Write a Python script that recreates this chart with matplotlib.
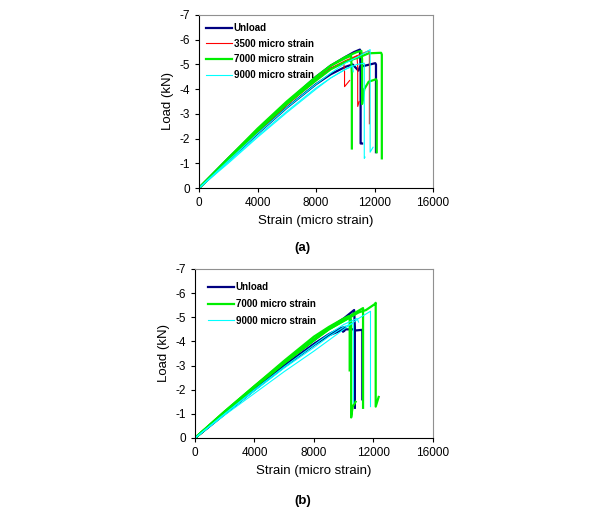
import matplotlib
matplotlib.use('Agg')
import matplotlib.pyplot as plt

plt.rcParams['font.family'] = ['Liberation Sans', 'DejaVu Sans']
plt.rcParams['axes.unicode_minus'] = False

# ---- (a) ----
a_unload_strain = [
    [0, 2000, 4000, 6000, 8000, 9000, 10000, 10600, 11000, 11050, 11050, 11150],
    [0, 2000, 4000, 6000, 8000, 9000, 10000, 10500, 10900, 11000, 12050, 12100, 12100],
]
a_unload_load = [
    [0, -1.2, -2.35, -3.45, -4.5, -4.95, -5.3, -5.5, -5.6, -4.8, -1.8, -1.8],
    [0, -1.1, -2.2, -3.25, -4.2, -4.6, -4.9, -5.0, -4.75, -4.9, -5.05, -5.0, -1.45],
]
a_3500_strain = [
    [0, 2000, 4000, 6000, 8000, 9000, 9900, 9950, 9950, 10300],
    [0, 2000, 4000, 6000, 8000, 9000, 10000, 10500, 10800, 10850, 10850, 10950],
    [0, 2000, 4000, 6000, 8000, 9000, 10000, 11000, 11600, 11650, 11650],
]
a_3500_load = [
    [0, -1.15, -2.3, -3.4, -4.4, -4.85, -5.05, -4.7, -4.1, -4.35],
    [0, -1.1, -2.25, -3.35, -4.35, -4.8, -5.1, -5.25, -5.35, -4.9, -3.3, -3.5],
    [0, -1.15, -2.3, -3.4, -4.4, -4.85, -5.15, -5.4, -5.55, -5.5, -2.6],
]
a_7000_strain = [
    [0, 2000, 4000, 6000, 8000, 9000, 10000, 10400, 10450, 10450],
    [0, 2000, 4000, 6000, 8000, 9000, 10000, 10800, 11100, 11150, 11150, 11300, 11600, 12100, 12150, 12150],
    [0, 2000, 4000, 6000, 8000, 9000, 10000, 11000, 11600, 12450, 12500, 12500],
]
a_7000_load = [
    [0, -1.2, -2.4, -3.5, -4.5, -4.95, -5.25, -5.35, -4.6, -1.6],
    [0, -1.2, -2.35, -3.45, -4.45, -4.95, -5.3, -5.5, -5.55, -5.2, -3.4, -4.0, -4.3, -4.4, -4.35, -1.45],
    [0, -1.15, -2.3, -3.4, -4.35, -4.8, -5.1, -5.3, -5.45, -5.47, -5.4, -1.2],
]
a_9000_strain = [
    [0, 2000, 4000, 6000, 8000, 9000, 10000, 10800, 11300, 11300, 11350],
    [0, 2000, 4000, 6000, 8000, 9000, 10000, 11000, 11700, 11700, 11900],
    [0, 2000, 4000, 6000, 8000, 9000, 10000, 10500, 10550],
]
a_9000_load = [
    [0, -1.05, -2.1, -3.1, -4.05, -4.45, -4.8, -5.0, -5.05, -1.2, -1.25],
    [0, -1.1, -2.2, -3.25, -4.2, -4.65, -5.05, -5.35, -5.6, -1.45, -1.65],
    [0, -1.0, -2.05, -3.05, -4.0, -4.45, -4.8, -4.95, -4.7],
]

# ---- (b) ----
b_unload_strain = [
    [0, 2000, 4000, 6000, 8000, 9000, 10000, 10700, 10750, 10750],
    [0, 2000, 4000, 6000, 8000, 9000, 10000, 10700, 10750, 11250, 11250],
    [0, 2000, 4000, 6000, 8000, 9000, 9800, 10100, 9950, 10050],
]
b_unload_load = [
    [0, -1.05, -2.1, -3.1, -4.05, -4.55, -4.95, -5.3, -4.6, -1.25],
    [0, -1.0, -2.0, -2.95, -3.85, -4.25, -4.5, -4.5, -4.45, -4.48, -1.6],
    [0, -1.0, -2.0, -3.0, -3.9, -4.3, -4.55, -4.6, -4.4, -4.45],
]
b_7000_strain = [
    [0, 2000, 4000, 6000, 8000, 9000, 10000, 10350, 10400, 10400],
    [0, 2000, 4000, 6000, 8000, 9000, 10000, 10450, 10500, 10500, 10600, 10800],
    [0, 2000, 4000, 6000, 8000, 9000, 10000, 10800, 11300, 11300],
    [0, 2000, 4000, 6000, 8000, 9000, 10000, 11000, 11500, 12100, 12150, 12150, 12350],
]
b_7000_load = [
    [0, -1.1, -2.15, -3.2, -4.2, -4.6, -4.95, -5.05, -4.9, -2.8],
    [0, -1.08, -2.1, -3.1, -4.05, -4.5, -4.85, -5.0, -4.85, -0.85, -1.3, -1.5],
    [0, -1.1, -2.15, -3.15, -4.1, -4.55, -4.9, -5.2, -5.38, -1.25],
    [0, -1.05, -2.1, -3.1, -4.05, -4.5, -4.85, -5.2, -5.3, -5.55, -5.6, -1.3, -1.7],
]
b_9000_strain = [
    [0, 2000, 4000, 6000, 8000, 9000, 10000, 11000, 11800, 11800],
    [0, 2000, 4000, 6000, 8000, 9000, 10000, 10600, 10650, 10650],
    [0, 2000, 4000, 6000, 8000, 9000, 10000, 10900, 11000],
]
b_9000_load = [
    [0, -0.95, -1.85, -2.75, -3.6, -4.05, -4.5, -4.95, -5.25, -1.3],
    [0, -1.0, -1.95, -2.9, -3.75, -4.2, -4.6, -4.75, -4.7, -1.45],
    [0, -1.0, -2.0, -2.95, -3.85, -4.3, -4.7, -4.95, -4.8],
]

x_ticks = [0, 4000, 8000, 12000, 16000]
y_ticks = [0, -1, -2, -3, -4, -5, -6, -7]

styles = {
    'Unload': ('#000080', 1.6),
    '3500 micro strain': ('#FF0000', 0.8),
    '7000 micro strain': ('#00EE00', 1.6),
    '9000 micro strain': ('#00FFFF', 0.8),
}


def draw(ax, series, leg_anchor, spacing):
    for name, xs, ys in series:
        color, lw = styles[name]
        for i in range(len(xs)):
            ax.plot(xs[i], ys[i], color=color, lw=lw, label=name if i == 0 else None)
    ax.set_xlim(0, 16000)
    ax.set_ylim(0, -7)
    ax.set_xticks(x_ticks)
    ax.set_yticks(y_ticks)
    ax.set_yticklabels([str(v) for v in y_ticks])
    ax.tick_params(direction='out', length=3, width=0.8, labelsize=8.5)
    for s in ['top', 'right']:
        ax.spines[s].set_color('#909090')
        ax.spines[s].set_linewidth(0.8)
    for s in ['left', 'bottom']:
        ax.spines[s].set_linewidth(0.8)
    ax.set_xlabel('Strain (micro strain)', fontsize=9.5)
    ax.set_ylabel('Load (kN)', fontsize=9.5)
    ax.legend(loc='upper left', bbox_to_anchor=leg_anchor, frameon=False,
              prop={'size': 7, 'weight': 'bold'}, handlelength=2.6,
              handletextpad=0.2, labelspacing=spacing, borderaxespad=0)


fig = plt.figure(figsize=(6.02, 5.08), dpi=100)

ax1 = fig.add_axes([0.3306, 0.6299, 0.3887, 0.3406])
draw(ax1, [('Unload', a_unload_strain, a_unload_load),
           ('3500 micro strain', a_3500_strain, a_3500_load),
           ('7000 micro strain', a_7000_strain, a_7000_load),
           ('9000 micro strain', a_9000_strain, a_9000_load)], (0.015, 0.975), 0.58)
fig.text(0.503, 0.512, '(a)', ha='center', va='center', fontsize=9.5, fontweight='bold')

ax2 = fig.add_axes([0.3239, 0.1378, 0.3953, 0.3327])
draw(ax2, [('Unload', b_unload_strain, b_unload_load),
           ('7000 micro strain', b_7000_strain, b_7000_load),
           ('9000 micro strain', b_9000_strain, b_9000_load)], (0.04, 0.945), 0.7)
fig.text(0.503, 0.014, '(b)', ha='center', va='center', fontsize=9.5, fontweight='bold')

fig.savefig('out.png', dpi=100)
plt.close(fig)
